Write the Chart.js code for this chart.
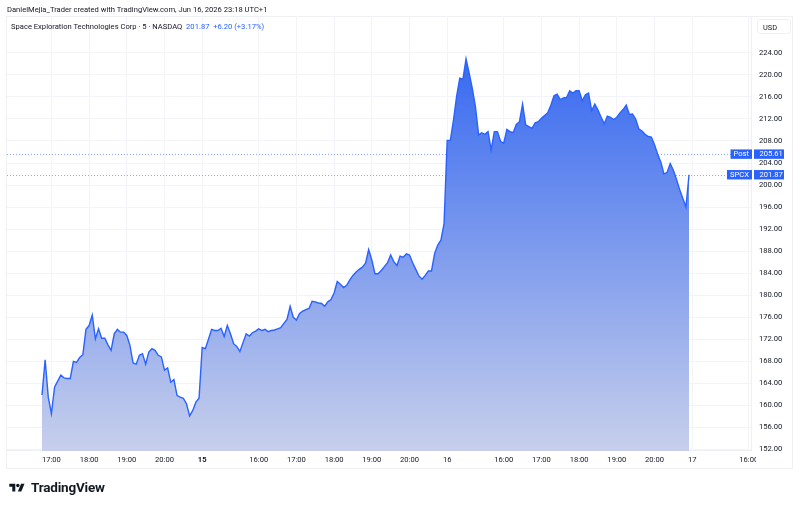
<!DOCTYPE html>
<html><head><meta charset="utf-8">
<script src="https://cdn.jsdelivr.net/npm/chart.js@4"></script>
<style>
html,body{margin:0;padding:0;background:#fff;width:800px;height:506px;overflow:hidden;font-family:Roboto,"Noto Sans",sans-serif;}
#wrap{position:relative;width:800px;height:506px;}
canvas{position:absolute;left:0;top:0;}
.t{position:absolute;white-space:nowrap;color:#131722;line-height:1;}
.blue{color:#2962FF;}
</style></head><body>
<div id="wrap">
<canvas id="c" width="800" height="506"></canvas>
<div class="t" style="left:7px;top:6px;font-size:7.6px;">DanielMejia_Trader created with TradingView.com, Jun 16, 2026 23:18 UTC+1</div>
<div class="t" style="left:11px;top:22.5px;font-size:7.6px;">Space Exploration Technologies Corp · 5 · NASDAQ&nbsp; <span class="blue">201.87</span>&nbsp; <span class="blue">+6.20 (+3.17%)</span></div>
<div class="t" style="left:757px;top:19px;width:34px;height:15px;border:1px solid #eef0f4;border-radius:3px;box-sizing:border-box;font-size:7.4px;padding:4px 0 0 5px;">USD</div>
<div style="position:absolute;left:7px;top:482px;height:12px;display:flex;align-items:center;">
<svg width="20" height="12" viewBox="0 0 36 28" style="display:block"><path fill="#131722" d="M14 22H7V11H0V4h14v18zM28 22h-8l7.5-18h8L28 22z"/><circle fill="#131722" cx="20" cy="8" r="4"/></svg>
<span style="margin-left:4px;font-size:13.5px;font-weight:700;color:#131722;letter-spacing:-0.2px;line-height:1;">TradingView</span>
</div>
</div>
<script>
// 5-minute closes, session 14:30-21:00 (UTC+1)
const day12Closes = [161.9,168.3,161.5,158.5,163.3,164.4,165.5,165.0,164.9,164.9,168.0,167.8,168.7,169.2,173.8,174.5,176.4,172.1,173.9,172.2,172.2,171.0,170.0,173.0,173.8,173.3,173.3,172.7,170.9,167.7,167.5,169.1,169.4,167.5,169.7,170.3,170.0,169.1,168.8,166.4,166.8,164.2,164.7,161.8,161.5,161.3,160.3,158.1,159.1,160.6,161.3];
const day15Closes = [170.5,170.3,172.0,173.8,173.6,173.6,174.0,172.5,174.5,173.0,171.2,170.7,169.8,171.4,173.0,172.6,173.2,173.5,173.9,173.6,173.8,173.4,173.6,173.7,173.9,174.1,174.9,175.6,178.0,176.0,175.5,176.7,177.1,177.4,177.6,178.9,178.8,178.6,178.5,178.0,178.8,179.2,180.4,182.5,182.0,181.4,181.8,182.8,183.6,184.2,184.7,185.1,185.8,188.3,186.4,183.9,183.9,184.5,185.2,185.9,187.3,186.1,185.4,187.1,186.9,187.5,187.3,185.9,184.7,183.5,182.9,183.6,184.4,184.4,187.6,189.1,190.0,193.0];
const day16Closes = [208.1,208.1,211.8,216.1,219.4,219.2,222.9,220.3,217.5,214.2,209.1,209.5,209.2,209.7,206.4,209.7,209.7,207.9,207.6,210.1,209.7,209.5,211.0,211.5,214.7,210.9,210.6,210.3,211.3,211.5,212.1,212.6,213.1,214.5,216.2,216.5,215.5,215.8,215.9,217.1,216.7,217.1,217.1,215.3,216.4,216.7,213.5,214.7,213.6,212.3,211.1,212.5,212.3,211.9,212.3,213.1,213.7,214.5,212.8,212.9,212.0,210.2,209.8,209.2,208.8,208.7,207.3,205.6,204.2,202.0,202.3,203.9,202.7,201.0,199.2,197.6,196.0,201.87];
// time axis: bar index (0 = first bar, 16:45) and label
const tickBars   = [3,15,27,39,51,69,81,93,105,117,129,147,159,171,183,195,207,225];
const tickLabels = ['17:00','18:00','19:00','20:00','15','16:00','17:00','18:00','19:00','20:00','16','16:00','17:00','18:00','19:00','20:00','17','16:00'];
const priceTicks = [152,156,160,164,168,172,176,180,184,188,192,196,200,204,208,212,216,220,224];
const lastPrice = 201.87;
const postPrice = 205.61;
const lastLabel = 'SPCX';
const postLabel = 'Post';

const allCloses = day12Closes.concat(day15Closes, day16Closes);
const points = allCloses.map((v,i)=>({x:i,y:v}));
const BLUE = '#2962FF';
const FONT = 'Roboto, "Noto Sans", sans-serif';

function gradFn(c){
  const ch = c.chart, a = ch.chartArea;
  if(!a) return 'rgba(41,98,255,0.4)';
  const y0 = ch.scales.y.getPixelForValue(Math.max(...allCloses));
  const g = ch.ctx.createLinearGradient(0,y0,0,a.bottom);
  g.addColorStop(0,'rgb(56,106,240)');
  g.addColorStop(1,'rgb(199,207,235)');
  return g;
}

const frame = {
  id:'frame',
  beforeDraw(ch){
    const c = ch.ctx;
    c.save();
    c.strokeStyle = '#eef0f3'; c.lineWidth = 1;
    c.strokeRect(6.5,16.5,786,452);
    c.beginPath();
    c.moveTo(751.5,16); c.lineTo(751.5,451);
    c.moveTo(6,450.5); c.lineTo(751,450.5);
    c.stroke();
    c.restore();
  },
  afterDraw(ch){
    const c = ch.ctx;
    c.save();
    c.fillStyle = '#fff';
    c.fillRect(756,452,36,15.5);
    c.restore();
  }
};

const priceLines = {
  id:'priceLines',
  beforeDatasetsDraw(ch){
    const c = ch.ctx, a = ch.chartArea, y = ch.scales.y;
    c.save();
    c.strokeStyle = 'rgba(41,98,255,0.55)'; c.lineWidth = 1; c.setLineDash([1,2]);
    [postPrice,lastPrice].forEach(p=>{
      const py = Math.round(y.getPixelForValue(p))+0.5;
      c.beginPath(); c.moveTo(a.left,py); c.lineTo(a.right,py); c.stroke();
    });
    c.restore();
  },
  afterDraw(ch){
    const c = ch.ctx, a = ch.chartArea, y = ch.scales.y;
    c.save();
    c.font = '7.6px ' + FONT;
    c.textBaseline = 'middle';
    [[postPrice,postLabel],[lastPrice,lastLabel]].forEach(([p,name])=>{
      const py = y.getPixelForValue(p);
      const nw = c.measureText(name).width + 6;
      c.fillStyle = BLUE;
      c.fillRect(a.right+2-nw-1, py-4.7, nw, 9.4);
      c.fillRect(a.right+3, py-4.7, 30, 9.4);
      c.fillStyle = '#fff';
      c.textAlign = 'center';
      c.fillText(name, a.right+2-nw/2-1, py+0.3);
      c.textAlign = 'left';
      c.fillText(p.toFixed(2), a.right+8.5, py+0.3);
    });
    c.restore();
  }
};

new Chart(document.getElementById('c'), {
  type:'line',
  data:{datasets:[{data:points, borderColor:BLUE, borderWidth:1.4, pointRadius:0, tension:0, fill:'start', backgroundColor:gradFn}]},
  options:{
    responsive:false, animation:false, devicePixelRatio:1,
    layout:{padding:{left:7,top:16,right:7,bottom:38}},
    plugins:{legend:{display:false}, tooltip:{enabled:false}},
    scales:{
      x:{type:'linear', min:-11.14, max:225.72,
        afterBuildTicks:s=>{s.ticks = tickBars.map(v=>({value:v}));},
        afterFit:s=>{s.height = 17;},
        ticks:{autoSkip:false, maxRotation:0, padding:5, color:'#131722',
          font:c=>({family:FONT, size:7.6, weight:(tickLabels[c.index]==='15')?'bold':'normal'}),
          callback:(v,i)=>tickLabels[i]},
        grid:{color:'#f3f4f7', drawTicks:false},
        border:{display:false}
      },
      y:{position:'right', min:151.73, max:230.68,
        afterBuildTicks:s=>{s.ticks = priceTicks.map(v=>({value:v}));},
        afterFit:s=>{s.width = 42;},
        ticks:{padding:8, color:'#131722', font:{family:FONT, size:7.6}, callback:v=>Number(v).toFixed(2)},
        grid:{color:'#f3f4f7', drawTicks:false},
        border:{display:false}
      }
    }
  },
  plugins:[frame, priceLines]
});
</script>
</body></html>
